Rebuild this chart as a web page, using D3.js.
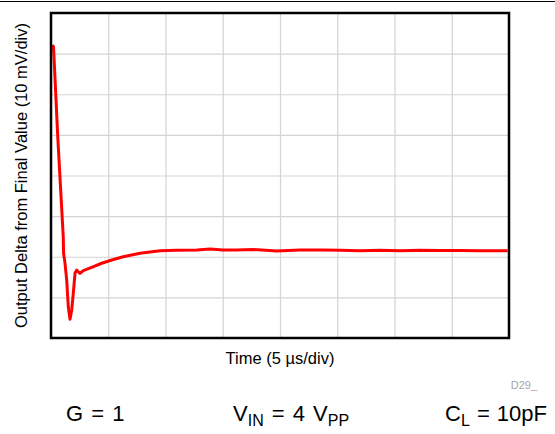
<!DOCTYPE html>
<html>
<head>
<meta charset="utf-8">
<script src="https://cdn.jsdelivr.net/npm/d3@7"></script>
<style>
  body { margin: 0; background: #fff; }
  text { font-family: "Liberation Sans", Arial, sans-serif; }
</style>
</head>
<body>
<div id="chart"></div>
<script>
// time in us (5 us/div), output delta in mV (10 mV/div)
const timeUs = [0.11, 0.22, 0.59, 1.07, 1.10, 1.22, 1.37, 1.51, 1.66, 1.81, 1.95, 2.10, 2.24, 2.38, 2.53,
  2.82, 3.55, 4.43, 5.30, 6.31, 7.77, 9.52, 10.98, 12.73, 13.89, 15.02, 16.22, 17.64, 19.71, 21.75,
  23.76, 25.24, 26.99, 28.73, 30.48, 32.23, 33.97, 35.72, 37.47, 39.88];
const deltaMv = [52.1, 51.7, 29.5, 4.9, 0.8, -1.5, -5.7, -12.3, -15.4, -13.1, -8.9, -4.0, -3.3, -3.7, -4.1,
  -3.4, -2.6, -1.6, -0.8, 0.0, 0.85, 1.5, 1.6, 1.65, 1.9, 1.65, 1.65, 1.8, 1.4, 1.65,
  1.65, 1.6, 1.5, 1.6, 1.5, 1.6, 1.55, 1.55, 1.45, 1.5];
const xTicks = d3.range(0, 41, 5);
const yTicks = d3.range(-20, 61, 10);

const width = 555, height = 434;
const margin = { top: 13, right: 46, bottom: 96, left: 51 };
const plotW = width - margin.left - margin.right;
const plotH = height - margin.top - margin.bottom;

const svg = d3.select("#chart").append("svg")
  .attr("width", width)
  .attr("height", height);

// page rule at the top
svg.append("line")
  .attr("x1", 0).attr("x2", width)
  .attr("y1", 1.5).attr("y2", 1.5)
  .attr("stroke", "#000").attr("stroke-width", 1.2);

const x = d3.scaleLinear().domain([0, 40]).range([0, plotW]);
const y = d3.scaleLinear().domain([-20, 60]).range([plotH, 0]);

const g = svg.append("g").attr("transform", `translate(${margin.left},${margin.top})`);

// grid
g.append("g")
  .attr("transform", `translate(0,${plotH})`)
  .call(d3.axisBottom(x).tickValues(xTicks).tickSize(-plotH).tickFormat(""))
  .call(a => a.select(".domain").remove())
  .call(a => a.selectAll("line").attr("stroke", "#d4d4d4").attr("stroke-width", 1.2));
g.append("g")
  .call(d3.axisLeft(y).tickValues(yTicks).tickSize(-plotW).tickFormat(""))
  .call(a => a.select(".domain").remove())
  .call(a => a.selectAll("line").attr("stroke", "#d4d4d4").attr("stroke-width", 1.2));

// trace
const line = d3.line()
  .x((d, i) => x(timeUs[i]))
  .y(d => y(d));
g.append("path")
  .datum(deltaMv)
  .attr("d", line)
  .attr("fill", "none")
  .attr("stroke", "#ff0000")
  .attr("stroke-width", 3)
  .attr("stroke-linejoin", "round");

// frame
g.append("rect")
  .attr("width", plotW).attr("height", plotH)
  .attr("fill", "none")
  .attr("stroke", "#000").attr("stroke-width", 2.5);

// axis titles
svg.append("text")
  .attr("transform", `translate(27,${margin.top + plotH / 2}) rotate(-90)`)
  .attr("text-anchor", "middle")
  .attr("font-size", 16.5)
  .text("Output Delta from Final Value (10 mV/div)");

svg.append("text")
  .attr("x", margin.left + plotW / 2).attr("y", 364)
  .attr("text-anchor", "middle")
  .attr("font-size", 16.5)
  .text("Time (5 µs/div)");

svg.append("text")
  .attr("x", 537).attr("y", 389)
  .attr("text-anchor", "end")
  .attr("font-size", 11)
  .attr("fill", "#a6a6a6")
  .text("D29_");

// conditions
const cond = svg.append("g").attr("font-size", 22);
cond.append("text").attr("x", 66).attr("y", 421).attr("word-spacing", 2).text("G = 1");
const vin = cond.append("text").attr("x", 233).attr("y", 421).attr("word-spacing", 2);
vin.append("tspan").text("V");
vin.append("tspan").attr("dy", 5).attr("font-size", 16).text("IN");
vin.append("tspan").attr("dy", -5).text(" = 4 V");
vin.append("tspan").attr("dy", 5).attr("font-size", 16).text("PP");
const cl = cond.append("text").attr("x", 547).attr("y", 421).attr("text-anchor", "end").attr("word-spacing", 1);
cl.append("tspan").text("C");
cl.append("tspan").attr("dy", 5).attr("font-size", 16).text("L");
cl.append("tspan").attr("dy", -5).text(" = 10pF");
</script>
</body>
</html>
